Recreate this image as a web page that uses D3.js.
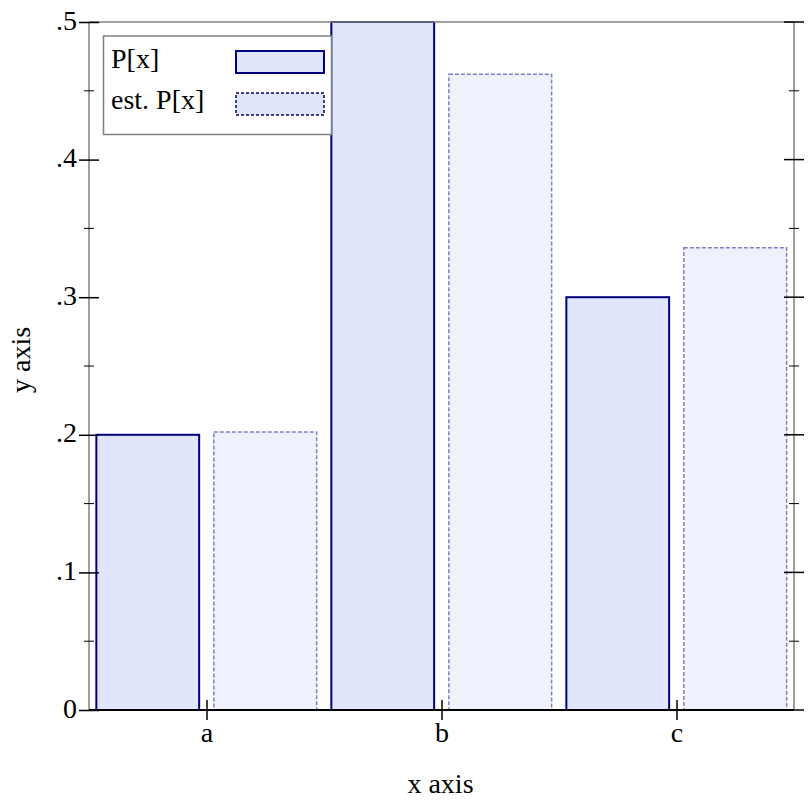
<!DOCTYPE html>
<html><head><meta charset="utf-8">
<script src="https://cdn.jsdelivr.net/npm/d3@7"></script>
<style>body{margin:0;background:#fff}svg{display:block}text{font-family:"Liberation Serif","DejaVu Serif",serif;fill:#000}</style>
</head><body><svg id="c" width="812" height="812"></svg>
<script>
const categories = ["a", "b", "c"];
const pValues = [0.2, 0.5, 0.3];
const estValues = [0.202, 0.462, 0.336];
const yTicks = [0, 0.1, 0.2, 0.3, 0.4, 0.5];
const yTickLabels = ["0", ".1", ".2", ".3", ".4", ".5"];
const yMinorTicks = [0.05, 0.15, 0.25, 0.35, 0.45];
const seriesNames = ["P[x]", "est. P[x]"];

const svg = d3.select("#c");
const L = 89, R = 794, T = 22, B = 710;
const x = d3.scaleLinear().domain([0, 6]).range([L, R]);
const y = d3.scaleLinear().domain([0, 0.5]).range([B, T]);
const fs = 28;

// bars
const gap = 0.0625;
svg.selectAll("rect.p").data(pValues).join("rect")
  .attr("x", (d, i) => x(i * 2 + gap)).attr("width", (d, i) => x(i * 2 + 1 - gap) - x(i * 2 + gap))
  .attr("y", d => y(d)).attr("height", d => y(0) - y(d))
  .attr("fill", "#e0e6fc").attr("stroke", "#00007f").attr("stroke-width", 2);
svg.selectAll("rect.e").data(estValues).join("rect")
  .attr("x", (d, i) => x(i * 2 + 1 + gap)).attr("width", (d, i) => x(i * 2 + 2 - gap) - x(i * 2 + 1 + gap))
  .attr("y", d => y(d)).attr("height", d => y(0) - y(d))
  .attr("fill", "#eff2fd").attr("stroke", "#7f7fbf").attr("stroke-width", 1.5).attr("stroke-dasharray", "4,2");

// frame
const gray = "#808080";
svg.append("line").attr("x1", L).attr("x2", R).attr("y1", T).attr("y2", T).attr("stroke", gray).attr("stroke-width", 1.5);
svg.append("line").attr("x1", L).attr("x2", L).attr("y1", T).attr("y2", B).attr("stroke", gray).attr("stroke-width", 1.5);
svg.append("line").attr("x1", R).attr("x2", R).attr("y1", T).attr("y2", B).attr("stroke", gray).attr("stroke-width", 1.5);
svg.append("line").attr("x1", L).attr("x2", R).attr("y1", B).attr("y2", B).attr("stroke", "#000").attr("stroke-width", 2);

// y ticks
const yAxisL = d3.axisLeft(y).tickValues(yTicks).tickFormat((d, i) => yTickLabels[i]).tickSize(10).tickPadding(2);
const gL = svg.append("g").attr("transform", `translate(${L},0)`).call(yAxisL);
gL.select(".domain").remove();
gL.selectAll(".tick line").attr("x2", 10).attr("x1", -10).attr("stroke-width", 1.5);
gL.selectAll(".tick text").attr("x", -12).attr("font-size", fs).attr("font-family", "Liberation Serif").attr("dy", "0.25em");
gL.selectAll(".minor").data(yMinorTicks).join("line").attr("class", "minor")
  .attr("x1", -5).attr("x2", 5).attr("y1", d => y(d)).attr("y2", d => y(d)).attr("stroke", "#000");

const gR = svg.append("g").attr("transform", `translate(${R},0)`);
gR.selectAll(".maj").data(yTicks).join("line").attr("x1", -10).attr("x2", 10)
  .attr("y1", d => y(d)).attr("y2", d => y(d)).attr("stroke", "#000").attr("stroke-width", 1.5);
gR.selectAll(".minor").data(yMinorTicks).join("line").attr("x1", -5).attr("x2", 5)
  .attr("y1", d => y(d)).attr("y2", d => y(d)).attr("stroke", "#000");

// x ticks
const xAxis = d3.axisBottom(x).tickValues([1, 3, 5]).tickFormat((d, i) => categories[i]).tickSize(10).tickPadding(8);
const gB = svg.append("g").attr("transform", `translate(0,${B})`).call(xAxis);
gB.select(".domain").remove();
gB.selectAll(".tick line").attr("y1", -10).attr("y2", 10).attr("stroke-width", 1.5);
gB.selectAll(".tick text").attr("font-size", fs).attr("font-family", "Liberation Serif").attr("y", 12);

// axis titles
svg.append("text").attr("x", (L + R) / 2 - 1).attr("y", 793).attr("text-anchor", "middle").attr("font-size", fs).text("x axis");
svg.append("text").attr("transform", "translate(30,360) rotate(-90)").attr("text-anchor", "middle").attr("font-size", fs).text("y axis");

// legend
const lg = svg.append("g");
lg.append("rect").attr("x", 103.5).attr("y", 36).attr("width", 228).attr("height", 98.5)
  .attr("fill", "#fff").attr("stroke", gray).attr("stroke-width", 1.5);
lg.selectAll("text.l").data(seriesNames).join("text").attr("x", 111).attr("y", (d, i) => 68 + i * 41)
  .attr("font-size", fs).text(d => d);
lg.append("rect").attr("x", 236).attr("y", 51).attr("width", 88).attr("height", 22)
  .attr("fill", "#e0e6fc").attr("stroke", "#00007f").attr("stroke-width", 2);
lg.append("rect").attr("x", 236).attr("y", 93).attr("width", 88).attr("height", 22)
  .attr("fill", "#e0e6fc").attr("stroke", "#00007f").attr("stroke-width", 1.5).attr("stroke-dasharray", "3,2");
</script></body></html>
